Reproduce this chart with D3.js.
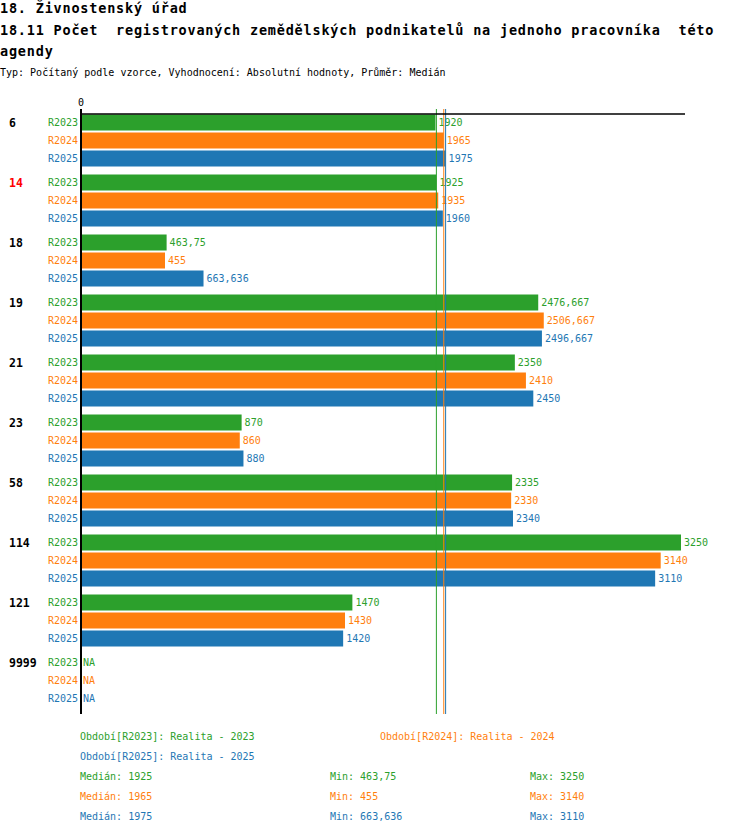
<!DOCTYPE html>
<html>
<head>
<meta charset="utf-8">
<script src="https://cdn.jsdelivr.net/npm/d3@7"></script>
<style>
  body { margin: 0; background: #fff; }
  svg { font-family: "DejaVu Sans Mono", "Liberation Mono", monospace; }
  svg text { white-space: pre; }
</style>
</head>
<body>
<div id="chart"></div>
<script>
const categories = ['6', '14', '18', '19', '21', '23', '58', '114', '121', '9999'];
const highlighted = ['14'];
const series = ['R2023', 'R2024', 'R2025'];
const seriesNames = ['Realita - 2023', 'Realita - 2024', 'Realita - 2025'];
const values2023 = [1920, 1925, 463.75, 2476.667, 2350, 870, 2335, 3250, 1470, null];
const values2024 = [1965, 1935, 455, 2506.667, 2410, 860, 2330, 3140, 1430, null];
const values2025 = [1975, 1960, 663.636, 2496.667, 2450, 880, 2340, 3110, 1420, null];
const colors = ['#2ca02c', '#ff7f0e', '#1f77b4'];

const titleLines = [
  '18. Živnostenský úřad',
  '18.11 Počet  registrovaných zemědělských podnikatelů na jednoho pracovníka  této',
  'agendy'
];
const subtitle = 'Typ: Počítaný podle vzorce, Vyhodnocení: Absolutní hodnoty, Průměr: Medián';

const width = 750;
const height = 834;
const margin = { top: 114, left: 81, right: 69, bottom: 120 };

const allValues = [values2023, values2024, values2025];
const fmt = v => v == null ? 'NA' : String(v).replace('.', ',');

const svg = d3.select('#chart')
  .append('svg')
  .attr('width', width)
  .attr('height', height);

// titles
svg.append('g')
  .selectAll('text')
  .data(titleLines)
  .join('text')
    .attr('x', 0)
    .attr('y', (d, i) => [13, 35, 56][i])
    .attr('font-size', '13.5px')
    .attr('letter-spacing', '0.8px')
    .attr('font-weight', 'bold')
    .attr('fill', '#000')
    .text(d => d);

svg.append('text')
  .attr('x', 0)
  .attr('y', 76)
  .attr('font-size', '10px')
  .attr('fill', '#000')
  .text(subtitle);

const x = d3.scaleLinear()
  .domain([0, d3.max(allValues.flat())])
  .range([margin.left, width - margin.right]);

const y = d3.scaleBand()
  .domain(categories)
  .range([margin.top, height - margin.bottom]);

const yInner = d3.scaleBand()
  .domain(series)
  .range([0, y.bandwidth() - 6]);

// bars
const groups = svg.append('g')
  .selectAll('g')
  .data(categories)
  .join('g')
    .attr('transform', d => `translate(0, ${y(d)})`);

groups.each(function(cat, ci) {
  const g = d3.select(this);
  series.forEach((s, si) => {
    const v = allValues[si][ci];
    const top = yInner(s) + 0.5;
    const h = yInner.bandwidth() - 2;
    if (v != null) {
      g.append('rect')
        .attr('x', x(0))
        .attr('y', top)
        .attr('width', x(v) - x(0))
        .attr('height', h)
        .attr('fill', colors[si]);
    }
    g.append('text')
      .attr('x', v != null ? x(v) + 3 : x(0) + 2)
      .attr('y', top + h / 2)
      .attr('dy', '0.35em')
      .attr('font-size', '10px')
      .attr('fill', colors[si])
      .text(fmt(v));
    g.append('text')
      .attr('x', x(0) - 3)
      .attr('y', top + h / 2)
      .attr('dy', '0.35em')
      .attr('text-anchor', 'end')
      .attr('font-size', '10px')
      .attr('fill', colors[si])
      .text(s);
  });
  g.append('text')
    .attr('x', 9)
    .attr('y', yInner(series[0]) + 0.5 + (yInner.bandwidth() - 2) / 2)
    .attr('dy', '0.35em')
    .attr('font-size', '11.5px')
    .attr('font-weight', 'bold')
    .attr('fill', highlighted.includes(cat) ? '#ff0000' : '#000')
    .text(cat);
});

// median lines
const medians = allValues.map(vals => d3.median(vals.filter(v => v != null)));
svg.append('g')
  .selectAll('line')
  .data(medians)
  .join('line')
    .attr('x1', d => x(d))
    .attr('x2', d => x(d))
    .attr('y1', margin.top - 5)
    .attr('y2', height - margin.bottom)
    .attr('stroke', (d, i) => colors[i])
    .attr('stroke-width', 1);

// axes
svg.append('line')
  .attr('x1', x(0))
  .attr('x2', x.range()[1] + 4)
  .attr('y1', margin.top)
  .attr('y2', margin.top)
  .attr('stroke', '#000')
  .attr('stroke-width', 1.5);

svg.append('line')
  .attr('x1', x(0))
  .attr('x2', x(0))
  .attr('y1', margin.top - 5)
  .attr('y2', height - margin.bottom)
  .attr('stroke', '#000')
  .attr('stroke-width', 2);

svg.append('text')
  .attr('x', x(0))
  .attr('y', 106)
  .attr('text-anchor', 'middle')
  .attr('font-size', '10px')
  .attr('fill', '#000')
  .text('0');

// legend
const legendPos = [[80, 740], [380, 740], [80, 760]];
svg.append('g')
  .selectAll('text')
  .data(series)
  .join('text')
    .attr('x', (d, i) => legendPos[i][0])
    .attr('y', (d, i) => legendPos[i][1])
    .attr('font-size', '10px')
    .attr('fill', (d, i) => colors[i])
    .text((d, i) => `Období[${d}]: ${seriesNames[i]}`);

const stats = series.map((s, i) => {
  const vals = allValues[i].filter(v => v != null);
  return [`Medián: ${fmt(medians[i])}`, `Min: ${fmt(d3.min(vals))}`, `Max: ${fmt(d3.max(vals))}`];
});
const statX = [80, 330, 530];
stats.forEach((row, i) => {
  row.forEach((t, j) => {
    svg.append('text')
      .attr('x', statX[j])
      .attr('y', 780 + i * 20)
      .attr('font-size', '10px')
      .attr('fill', colors[i])
      .text(t);
  });
});
</script>
</body>
</html>
